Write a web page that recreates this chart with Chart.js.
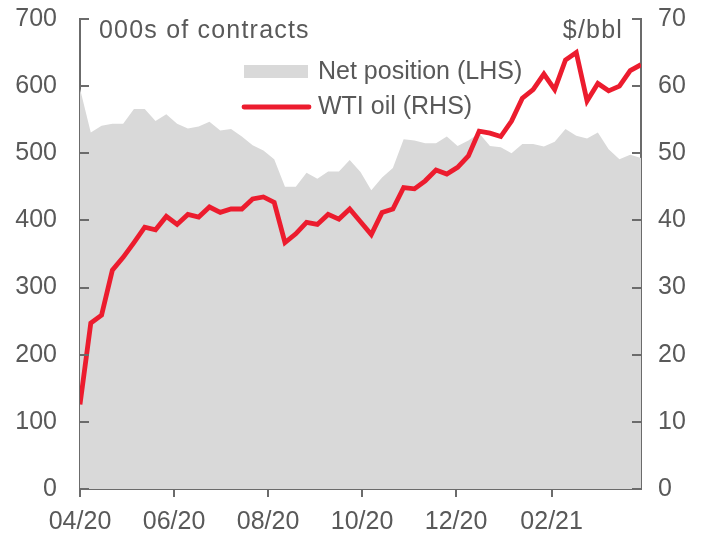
<!DOCTYPE html>
<html lang="en">
<head>
  <meta charset="UTF-8" />
  <title>Net position vs WTI oil</title>
  <script src="https://cdn.jsdelivr.net/npm/chart.js"></script>
  <style>
    html, body { margin: 0; padding: 0; background: #fff; }
    #wrap { width: 713px; height: 538px; }
  </style>
</head>
<body>
  <div id="wrap"><canvas id="oilChart"></canvas></div>

  <script>
    // Weekly observations, starting 1 Apr 2020
    const firstWeek = '2020-04-01';
    const weekCount = 53;

    // Net position, 000s of contracts (LHS)
    const netPosition = [
      596, 531, 541, 544, 544, 566, 566, 548, 558, 544,
      537, 540, 547, 534, 536, 525, 512, 504, 491, 450,
      450, 471, 462, 473, 473, 490, 472, 445, 464, 478,
      521, 519, 515, 515, 525, 511, 519, 530, 511, 509,
      500, 514, 514, 510, 517, 536, 526, 522, 531, 506,
      491, 498, 493
    ];

    // WTI oil, $/bbl (RHS)
    const wtiOil = [
      12.6, 24.7, 25.9, 32.6, 34.5, 36.7, 39.0, 38.6, 40.6, 39.4,
      40.9, 40.5, 42.0, 41.2, 41.7, 41.7, 43.2, 43.5, 42.7, 36.7,
      38.0, 39.7, 39.4, 40.9, 40.2, 41.7, 39.8, 37.9, 41.2, 41.7,
      44.9, 44.7, 45.9, 47.5, 46.9, 47.9, 49.6, 53.3, 53.0, 52.5,
      54.8, 58.2, 59.5, 61.8, 59.5, 63.9, 65.0, 57.8, 60.4, 59.3,
      60.0, 62.3, 63.2
    ];

    // x axis tick marks
    const tickDates = ['2020-04-01', '2020-06-01', '2020-08-01', '2020-10-01', '2020-12-01', '2021-02-01'];
    const tickLabels = ['04/20', '06/20', '08/20', '10/20', '12/20', '02/21'];

    const DAY = 86400000;
    const dayOffset = d => Math.round((Date.parse(d) - Date.parse(firstWeek)) / DAY);
    const weekDays = Array.from({ length: weekCount }, (_, i) => i * 7);
    const tickDays = tickDates.map(dayOffset);

    const textColor = '#595959';
    const axisColor = '#6b6b6b';
    const fontFamily = '"Liberation Sans", Arial, sans-serif';
    const fontSize = 25;

    // fixed axis widths so the plot sits where the original does
    const fixWidth = w => scale => {
      scale.width = w;
      scale.paddingTop = 0;
      scale.paddingBottom = 0;
    };

    // inward ticks, titles and the legend drawn inside the plot
    const decor = {
      id: 'decor',
      afterDraw(chart) {
        const c = chart.ctx;
        const area = chart.chartArea;
        const left = chart.scales.y;
        const right = chart.scales.y1;

        c.save();
        c.strokeStyle = axisColor;
        c.lineWidth = 2;
        left.ticks.forEach(t => {
          const py = Math.round(left.getPixelForValue(t.value));
          c.beginPath();
          c.moveTo(area.left, py);
          c.lineTo(area.left + 9, py);
          c.stroke();
        });
        right.ticks.forEach(t => {
          const py = Math.round(right.getPixelForValue(t.value));
          c.beginPath();
          c.moveTo(area.right, py);
          c.lineTo(area.right - 9, py);
          c.stroke();
        });

        c.fillStyle = textColor;
        c.font = fontSize + 'px ' + fontFamily;
        c.textBaseline = 'middle';
        c.letterSpacing = '1.2px';
        c.textAlign = 'left';
        c.fillText('000s of contracts', area.left + 19, 31);
        c.textAlign = 'right';
        c.fillText('$/bbl', area.right - 18, 31);
        c.letterSpacing = '0px';

        // legend
        const area_ds = chart.data.datasets[1];
        const line_ds = chart.data.datasets[0];
        const lx = 244, tx = 318;
        c.fillStyle = area_ds.backgroundColor;
        c.fillRect(lx, 65, 64, 13);
        c.fillStyle = textColor;
        c.textAlign = 'left';
        c.fillText(area_ds.label, tx, 72);

        c.strokeStyle = line_ds.borderColor;
        c.lineWidth = line_ds.borderWidth;
        c.lineCap = 'round';
        c.beginPath();
        c.moveTo(lx, 107);
        c.lineTo(lx + 65, 107);
        c.stroke();
        c.fillText(line_ds.label, tx, 107);
        c.restore();
      }
    };

    const ctx = document.getElementById('oilChart').getContext('2d');
    new Chart(ctx, {
      type: 'line',
      data: {
        datasets: [
          {
            label: 'WTI oil (RHS)',
            data: weekDays.map((d, i) => ({ x: d, y: wtiOil[i] })),
            yAxisID: 'y1',
            borderColor: '#ec1c2e',
            borderWidth: 4.8,
            pointRadius: 0,
            tension: 0,
            fill: false,
            order: 0
          },
          {
            label: 'Net position (LHS)',
            data: weekDays.map((d, i) => ({ x: d, y: netPosition[i] })),
            yAxisID: 'y',
            backgroundColor: '#d9d9d9',
            borderWidth: 0,
            pointRadius: 0,
            tension: 0,
            fill: 'origin',
            order: 1
          }
        ]
      },
      options: {
        responsive: true,
        maintainAspectRatio: false,
        animation: false,
        layout: { padding: { top: 19, left: 0, right: 0, bottom: 0 } },
        plugins: {
          legend: { display: false },
          tooltip: { enabled: false }
        },
        scales: {
          x: {
            type: 'linear',
            min: 0,
            max: weekDays[weekDays.length - 1],
            afterBuildTicks: scale => { scale.ticks = tickDays.map(v => ({ value: v })); },
            afterFit: scale => {
              scale.height = 49;
              scale.paddingLeft = 0;
              scale.paddingRight = 0;
            },
            grid: { drawOnChartArea: false, drawTicks: true, tickLength: 8, color: axisColor, lineWidth: 2 },
            border: { display: true, color: axisColor, width: 2 },
            ticks: {
              autoSkip: false,
              maxRotation: 0,
              padding: 10,
              color: textColor,
              font: { family: fontFamily, size: fontSize },
              callback: value => tickLabels[tickDays.indexOf(value)]
            }
          },
          y: {
            position: 'left',
            min: 0,
            max: 700,
            afterFit: fixWidth(80),
            grid: { display: false, drawTicks: false },
            border: { display: true, color: axisColor, width: 2 },
            ticks: { stepSize: 100, padding: 23, color: textColor, font: { family: fontFamily, size: fontSize } }
          },
          y1: {
            position: 'right',
            min: 0,
            max: 70,
            afterFit: fixWidth(72),
            grid: { display: false, drawTicks: false },
            border: { display: true, color: axisColor, width: 2 },
            ticks: { stepSize: 10, padding: 17, color: textColor, font: { family: fontFamily, size: fontSize } }
          }
        }
      },
      plugins: [decor]
    });
  </script>
</body>
</html>
